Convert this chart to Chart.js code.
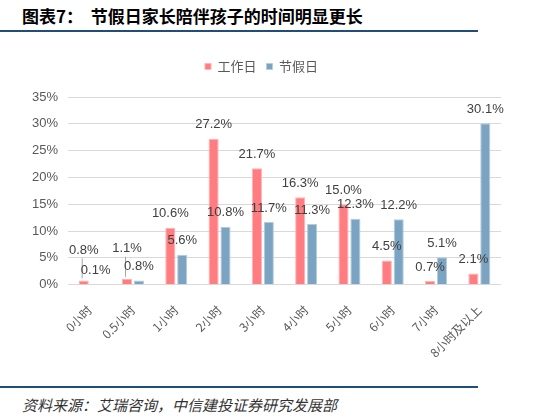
<!DOCTYPE html>
<html>
<head>
<meta charset="utf-8">
<script src="https://cdn.jsdelivr.net/npm/chart.js@4/dist/chart.umd.min.js"></script>
<style>
  body { margin: 0; background: #fff; font-family: "Noto Sans CJK SC", sans-serif; }
  #page { position: relative; width: 554px; height: 420px; overflow: hidden; }
  #title { position: absolute; left: 22px; top: 3px; font-size: 17px; font-weight: bold; color: #000; white-space: nowrap; }
  .rule { position: absolute; left: 0; width: 478px; height: 2px; background: #1F4E79; }
  #source { position: absolute; left: 22px; top: 394px; font-size: 15px; font-style: italic; color: #333; white-space: nowrap; }
  #wrap { position: absolute; left: 0; top: 40px; width: 554px; height: 345px; }
</style>
</head>
<body>
<div id="page">
  <div id="title">图表7：&nbsp; 节假日家长陪伴孩子的时间明显更长</div>
  <div class="rule" style="top:30px"></div>
  <div id="wrap"><canvas id="chart"></canvas></div>
  <div class="rule" style="top:386px"></div>
  <div id="source">资料来源：艾瑞咨询，中信建投证券研究发展部</div>
</div>
<script>
/* Chart data */
let categories = ['0小时', '0.5小时', '1小时', '2小时', '3小时', '4小时', '5小时', '6小时', '7小时', '8小时及以上']
let workdayValues = [0.8, 1.1, 10.6, 27.2, 21.7, 16.3, 15.0, 4.5, 0.7, 2.1]
let holidayValues = [0.1, 0.8, 5.6, 10.8, 11.7, 11.3, 12.3, 12.2, 5.1, 30.1]
let yTicks = [0, 5, 10, 15, 20, 25, 30, 35]

// Label nudges (px, upward) where labels were moved by hand in the original
let labelLift = { '0-0': 16, '0-1': 16 }

let gray = '#595959'

// Push the plot down a little below the legend
let legendSpacer = {
    id: 'legendSpacer',
    beforeInit(chart) {
        let fit = chart.legend.fit
        chart.legend.fit = function() {
            fit.bind(chart.legend)()
            this.height += 14
        }
    }
}

// Value labels above bars, with leader lines for lifted ones
let valueLabels = {
    id: 'valueLabels',
    afterDatasetsDraw(chart) {
        let ctx = chart.ctx
        ctx.save()
        ctx.font = '13px Arial, "Liberation Sans", sans-serif'
        ctx.fillStyle = '#404040'
        ctx.textAlign = 'center'
        ctx.textBaseline = 'middle'
        chart.data.datasets.forEach(function(ds, di) {
            chart.getDatasetMeta(di).data.forEach(function(bar, i) {
                let lift = labelLift[di + '-' + i] || 0
                let y = bar.y - 14 - lift
                if (lift > 0) {
                    ctx.strokeStyle = '#A6A6A6'
                    ctx.lineWidth = 1
                    ctx.beginPath()
                    ctx.moveTo(bar.x - 1.5, y + 8)
                    ctx.lineTo(bar.x - 1.5, bar.y - 2)
                    ctx.stroke()
                }
                ctx.fillText(ds.data[i].toFixed(1) + '%', bar.x, y)
            })
        })
        ctx.restore()
    }
}

let ctx = document.querySelector('#chart').getContext('2d')

let chart = new Chart(ctx, {
    type: 'bar',
    data: {
        labels: categories,
        datasets: [
            {
                label: '工作日',
                data: workdayValues,
                backgroundColor: '#FF7C80',
                borderColor: '#FFB3B5',
                borderWidth: 1
            },
            {
                label: '节假日',
                data: holidayValues,
                backgroundColor: '#7BA4C2',
                borderColor: '#B5CCDD',
                borderWidth: 1
            }
        ]
    },
    options: {
        responsive: true,
        maintainAspectRatio: false,
        animation: false,
        layout: { padding: { left: 22, right: 53, top: 10, bottom: 15 } },
        datasets: { bar: { categoryPercentage: 0.55, barPercentage: 0.85 } },
        plugins: {
            legend: {
                position: 'top',
                labels: {
                    boxWidth: 6,
                    boxHeight: 6,
                    color: gray,
                    font: { size: 13, family: '"Noto Sans CJK SC", sans-serif' },
                    padding: 10
                }
            },
            tooltip: { enabled: false }
        },
        scales: {
            x: {
                grid: { display: false },
                border: { display: false },
                ticks: {
                    color: gray,
                    font: { size: 12, family: '"Noto Sans CJK SC", sans-serif' },
                    maxRotation: 45,
                    minRotation: 45,
                    padding: 10
                }
            },
            y: {
                min: 0,
                max: 35,
                afterBuildTicks(axis) {
                    axis.ticks = yTicks.map(v => ({ value: v }))
                },
                grid: { color: '#D9D9D9', drawTicks: false },
                border: { display: false },
                ticks: {
                    color: gray,
                    font: { size: 13, family: 'Arial, "Liberation Sans", sans-serif' },
                    padding: 10,
                    callback: v => v + '%'
                }
            }
        }
    },
    plugins: [legendSpacer, valueLabels]
})
</script>
</body>
</html>
